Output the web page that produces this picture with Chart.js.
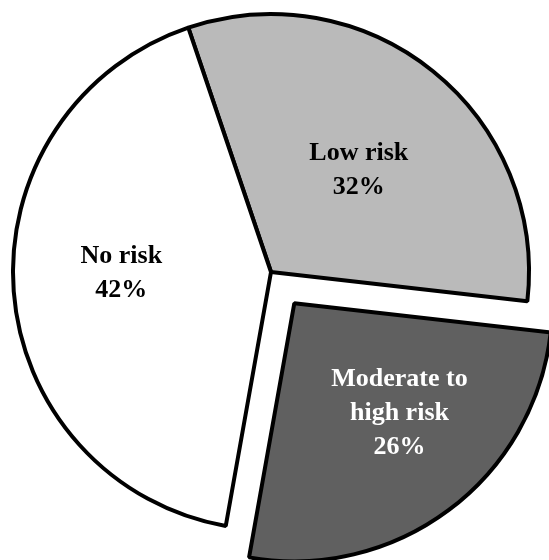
<!DOCTYPE html>
<html>
<head>
<meta charset="utf-8">
<script src="https://cdn.jsdelivr.net/npm/chart.js@4"></script>
<style>
  html, body { margin: 0; padding: 0; background: #fff; }
  canvas { display: block; }
</style>
</head>
<body>
<canvas id="riskChart" width="549" height="560"></canvas>
<script>
const categories = ["Low risk", "Moderate to high risk", "No risk"];
const shares = [32, 26, 42];
// how each category name is broken over lines inside its slice
const nameLines = [["Low risk"], ["Moderate to", "high risk"], ["No risk"]];

const sliceFill = ["#bababa", "#606060", "#ffffff"];
const textFill = ["#000", "#fff", "#000"];
const explode = [0, 156, 0];
const labelDist = [0.52, 0.59, 0.58];
const labelTurn = [2, -7, 4];

const sliceLabels = {
  id: "sliceLabels",
  afterDatasetsDraw(chart) {
    const ctx = chart.ctx;
    const arcs = chart.getDatasetMeta(0).data;
    ctx.save();
    ctx.font = 'bold 26px "Liberation Serif", "Times New Roman", serif';
    ctx.textAlign = "center";
    ctx.textBaseline = "middle";
    arcs.forEach(function(arc, i) {
      const mid = (arc.startAngle + arc.endAngle) / 2;
      const shift = explode[i] / 4;
      const cx = arc.x + Math.cos(mid) * shift;
      const cy = arc.y + Math.sin(mid) * shift;
      const a = mid + labelTurn[i] * Math.PI / 180;
      const r = arc.outerRadius * labelDist[i];
      const x = cx + Math.cos(a) * r;
      const y = cy + Math.sin(a) * r;
      const lines = nameLines[i].concat([shares[i] + "%"]);
      const lh = 34;
      const top = y - (lines.length - 1) * lh / 2;
      ctx.fillStyle = textFill[i];
      lines.forEach(function(t, k) {
        ctx.fillText(t, x, top + k * lh);
      });
    });
    ctx.restore();
  }
};

const ctx = document.getElementById("riskChart").getContext("2d");
const chart = new Chart(ctx, {
  type: "pie",
  data: {
    labels: categories,
    datasets: [{
      data: shares,
      backgroundColor: sliceFill,
      borderColor: "#000",
      borderWidth: 4,
      offset: explode,
      hoverOffset: 0,
      clip: false
    }]
  },
  options: {
    responsive: false,
    animation: false,
    events: [],
    rotation: -18.7,
    radius: 258,
    layout: { padding: { left: 0, right: 7, top: 0, bottom: 16 } },
    plugins: {
      legend: { display: false },
      tooltip: { enabled: false }
    }
  },
  plugins: [sliceLabels]
});
</script>
</body>
</html>
